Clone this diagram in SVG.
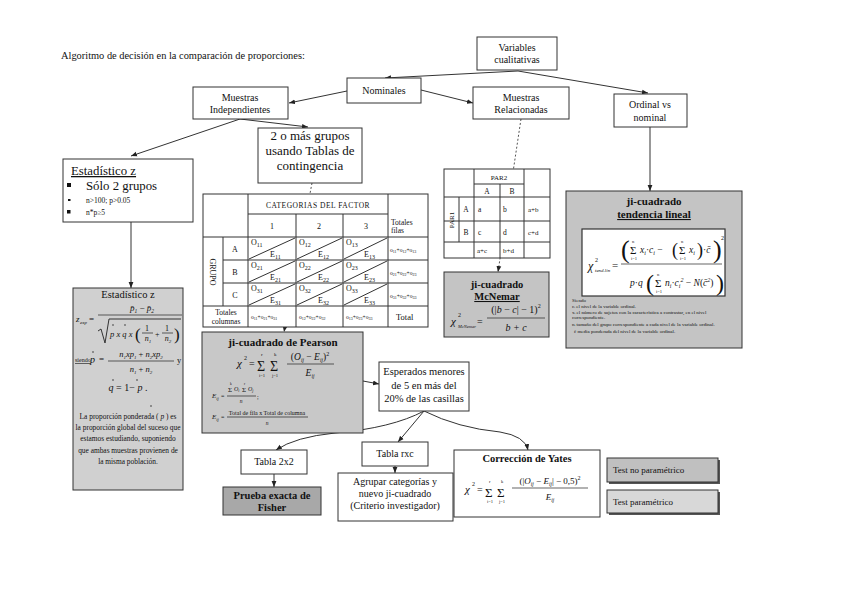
<svg xmlns="http://www.w3.org/2000/svg" width="848" height="599" viewBox="0 0 848 599">
<defs>
<marker id="ah" viewBox="0 0 10 10" refX="10" refY="5" markerWidth="6" markerHeight="6" orient="auto"><path d="M0,1 L10,5 L0,9 z" fill="#222"/></marker>
<style>
text{font-family:"Liberation Serif","Times New Roman",serif;fill:#111}
.b{fill:#fff;stroke:#333;stroke-width:1}
.g{stroke:#333;stroke-width:1}
.c{text-anchor:middle}
.bd{font-weight:bold}
.it{font-style:italic}
.ln{stroke:#333;stroke-width:1;fill:none}
.fr{stroke:#222;stroke-width:0.7}
.cn{stroke:#333;stroke-width:1;fill:none}
.dash{stroke:#555;stroke-width:1;fill:none;stroke-dasharray:2,2}
</style>
</defs>
<rect width="848" height="599" fill="#fff"/>
<text x="61" y="59" font-size="10.4">Algoritmo de decisión en la comparación de  proporciones:</text>

<g id="connectors">
<path class="cn" d="M518,71 L385,78" marker-end="url(#ah)"/>
<path class="cn" d="M518,71 L648,93" marker-end="url(#ah)"/>
<path class="cn" d="M347,91 L289,103" marker-end="url(#ah)"/>
<path class="cn" d="M421,90 L473,103" marker-end="url(#ah)"/>
<path class="cn" d="M240,119 L131,156" marker-end="url(#ah)"/>
<path class="cn" d="M240,119 L308,127" marker-end="url(#ah)"/>
<path class="dash" d="M312,183 L284,332" marker-end="url(#ah)"/>
<path class="dash" d="M521,119 L498,272" marker-end="url(#ah)"/>
<path class="cn" d="M650,127 L650,191" marker-end="url(#ah)"/>
<path class="cn" d="M131,222 L131,288" marker-end="url(#ah)"/>
<path class="cn" d="M363,381 L379,384" marker-end="url(#ah)"/>
<path class="cn" d="M424,411 L398,442" marker-end="url(#ah)"/>
<path class="cn" d="M424,411 Q392,428 335,433 Q295,437 276,450" marker-end="url(#ah)"/>
<path class="cn" d="M424,411 Q458,428 500,432 Q525,436 528,450" marker-end="url(#ah)"/>
<path class="cn" d="M395,466 L395,473" marker-end="url(#ah)"/>
<path class="cn" d="M274,474 L274,487" marker-end="url(#ah)"/>
</g>

<g id="variables">
<rect class="b" x="477" y="37" width="80" height="33"/>
<text class="c" x="517" y="51" font-size="10">Variables</text>
<text class="c" x="517" y="63" font-size="10">cualitativas</text>
</g>
<g id="nominales">
<rect class="b" x="347" y="78" width="74" height="25"/>
<text class="c" x="384" y="94" font-size="10">Nominales</text>
</g>
<g id="muestras-independientes">
<rect class="b" x="193" y="87" width="95" height="32"/>
<text class="c" x="240" y="101" font-size="10">Muestras</text>
<text class="c" x="240" y="113" font-size="10">Independientes</text>
</g>
<g id="muestras-relacionadas">
<rect class="b" x="473" y="87" width="96" height="32"/>
<text class="c" x="521" y="101" font-size="10">Muestras</text>
<text class="c" x="521" y="113" font-size="10">Relacionadas</text>
</g>
<g id="ordinal">
<rect class="b" x="614" y="94" width="73" height="33"/>
<text class="c" x="650" y="108" font-size="10">Ordinal vs</text>
<text class="c" x="650" y="121" font-size="10">nominal</text>
</g>

<g id="estadistico-z">
<rect class="b" x="63" y="159" width="130" height="63"/>
<text x="71" y="175" font-size="12.8" text-decoration="underline">Estadístico z</text>
<rect x="67" y="183" width="4" height="4" fill="#111"/>
<text x="86" y="190" font-size="12.8">Sólo 2 grupos</text>
<rect x="68" y="199" width="2.5" height="2" fill="#111"/>
<text x="86" y="203" font-size="7.5">n&gt;100; p&gt;0.05</text>
<rect x="67" y="210" width="3.5" height="3.5" fill="#111"/>
<text x="86" y="215" font-size="7.5">n*p≥5</text>
</g>

<g id="dos-o-mas">
<rect class="b" x="258" y="128" width="104" height="55"/>
<text class="c" x="310" y="140" font-size="13">2 o más grupos</text>
<text class="c" x="310" y="155" font-size="13">usando Tablas de</text>
<text class="c" x="310" y="170" font-size="13">contingencia</text>
</g>

<g id="tabla-contingencia">
<rect x="203" y="194" width="225" height="133" fill="#fff" stroke="#333"/>
<path class="ln" d="M248,194 V327 M203,237 H428 M248,214 H388 M296,214 V327 M343,214 V327 M388,194 V327 M223,237 V306 M203,306 H428 M223,260 H428 M223,283 H428"/>
<path class="ln" stroke-width="0.8" d="M249,259 L295,238 M297,259 L342,238 M344,259 L387,238 M249,282 L295,261 M297,282 L342,261 M344,282 L387,261 M249,305 L295,284 M297,305 L342,284 M344,305 L387,284"/>
<text class="c" x="318" y="208" font-size="7.5" letter-spacing="0.5">CATEGORIAS DEL FACTOR</text>
<text class="c" x="272" y="229" font-size="8">1</text>
<text class="c" x="319" y="229" font-size="8">2</text>
<text class="c" x="366" y="229" font-size="8">3</text>
<text x="391" y="225" font-size="7.5">Totales</text>
<text x="391" y="233" font-size="7.5">filas</text>
<text class="c" font-size="8" transform="translate(210,272) rotate(90)">GRUPO</text>
<text class="c" x="235" y="252" font-size="8">A</text>
<text class="c" x="235" y="275" font-size="8">B</text>
<text class="c" x="235" y="298" font-size="8">C</text>
<g font-size="8">
<text x="251" y="245">O<tspan font-size="6" dy="1.5">11</tspan></text>
<text x="270" y="257">E<tspan font-size="6" dy="1.5">11</tspan></text>
<text x="299" y="245">O<tspan font-size="6" dy="1.5">12</tspan></text>
<text x="318" y="257">E<tspan font-size="6" dy="1.5">12</tspan></text>
<text x="346" y="245">O<tspan font-size="6" dy="1.5">13</tspan></text>
<text x="364" y="257">E<tspan font-size="6" dy="1.5">13</tspan></text>
<text x="251" y="268">O<tspan font-size="6" dy="1.5">21</tspan></text>
<text x="270" y="280">E<tspan font-size="6" dy="1.5">21</tspan></text>
<text x="299" y="268">O<tspan font-size="6" dy="1.5">22</tspan></text>
<text x="318" y="280">E<tspan font-size="6" dy="1.5">22</tspan></text>
<text x="346" y="268">O<tspan font-size="6" dy="1.5">23</tspan></text>
<text x="364" y="280">E<tspan font-size="6" dy="1.5">23</tspan></text>
<text x="251" y="291">O<tspan font-size="6" dy="1.5">31</tspan></text>
<text x="270" y="303">E<tspan font-size="6" dy="1.5">31</tspan></text>
<text x="299" y="291">O<tspan font-size="6" dy="1.5">32</tspan></text>
<text x="318" y="303">E<tspan font-size="6" dy="1.5">32</tspan></text>
<text x="346" y="291">O<tspan font-size="6" dy="1.5">33</tspan></text>
<text x="364" y="303">E<tspan font-size="6" dy="1.5">33</tspan></text>
</g>
<g font-size="5.5">
<text x="390" y="252">o<tspan font-size="4" dy="1">11</tspan><tspan dy="-1">+o</tspan><tspan font-size="4" dy="1">12</tspan><tspan dy="-1">+o</tspan><tspan font-size="4" dy="1">13</tspan></text>
<text x="390" y="275">o<tspan font-size="4" dy="1">21</tspan><tspan dy="-1">+o</tspan><tspan font-size="4" dy="1">22</tspan><tspan dy="-1">+o</tspan><tspan font-size="4" dy="1">23</tspan></text>
<text x="390" y="298">o<tspan font-size="4" dy="1">31</tspan><tspan dy="-1">+o</tspan><tspan font-size="4" dy="1">32</tspan><tspan dy="-1">+o</tspan><tspan font-size="4" dy="1">33</tspan></text>
<text x="251" y="319">o<tspan font-size="4" dy="1">11</tspan><tspan dy="-1">+o</tspan><tspan font-size="4" dy="1">21</tspan><tspan dy="-1">+o</tspan><tspan font-size="4" dy="1">31</tspan></text>
<text x="299" y="319">o<tspan font-size="4" dy="1">12</tspan><tspan dy="-1">+o</tspan><tspan font-size="4" dy="1">22</tspan><tspan dy="-1">+o</tspan><tspan font-size="4" dy="1">32</tspan></text>
<text x="346" y="319">o<tspan font-size="4" dy="1">13</tspan><tspan dy="-1">+o</tspan><tspan font-size="4" dy="1">23</tspan><tspan dy="-1">+o</tspan><tspan font-size="4" dy="1">33</tspan></text>
</g>
<text class="c" x="226" y="315" font-size="7.5">Totales</text>
<text class="c" x="226" y="324" font-size="7.5">columnas</text>
<text x="396" y="320" font-size="8.5">Total</text>
</g>

<g id="tabla-par">
<rect x="444" y="169" width="106" height="89" fill="#fff" stroke="#333"/>
<path class="ln" d="M474,169 V258 M524,169 V258 M474,184 H524 M444,197 H550 M459,197 V242 M500,184 V258 M444,221 H550 M444,242 H550"/>
<text class="c" x="499" y="180" font-size="7">PAR2</text>
<text class="c" x="487" y="194" font-size="7.5">A</text>
<text class="c" x="512" y="194" font-size="7.5">B</text>
<text class="c" font-size="7" transform="translate(454,220) rotate(-90)">PAR1</text>
<text class="c" x="466" y="212" font-size="7.5">A</text>
<text class="c" x="466" y="235" font-size="7.5">B</text>
<text x="478" y="212" font-size="7.5">a</text>
<text x="503" y="212" font-size="7.5">b</text>
<text x="528" y="212" font-size="7">a+b</text>
<text x="478" y="235" font-size="7.5">c</text>
<text x="503" y="235" font-size="7.5">d</text>
<text x="528" y="235" font-size="7">c+d</text>
<text x="477" y="253" font-size="7">a+c</text>
<text x="503" y="253" font-size="7">b+d</text>
</g>

<g id="mcnemar">
<rect class="g" x="444" y="272" width="105" height="65" fill="#c4c4c4"/>
<text class="c bd" x="497" y="288" font-size="10.5">ji-cuadrado</text>
<text class="c bd" x="497" y="300" font-size="10.5" text-decoration="underline">McNemar</text>
<text class="it" x="451" y="325" font-size="11">χ</text>
<text x="458" y="317" font-size="6">2</text>
<text class="it" x="458" y="328" font-size="4.5">McNemar</text>
<text x="477" y="325" font-size="10">=</text>
<text class="c" x="516" y="313" font-size="10">(|<tspan class="it">b</tspan> − <tspan class="it">c</tspan>| − 1)<tspan font-size="6" dy="-5">2</tspan></text>
<line class="fr" x1="487" y1="318" x2="545" y2="318"/>
<text class="c it" x="516" y="331" font-size="10">b + c</text>
</g>

<g id="tendencia-lineal">
<rect class="g" x="566" y="191" width="176" height="157" fill="#c4c4c4"/>
<text class="c bd" x="654" y="205" font-size="11">ji-cuadrado</text>
<text class="c bd" x="654" y="218" font-size="11" text-decoration="underline">tendencia lineal</text>
<rect x="582" y="229" width="143" height="67" fill="#fff" stroke="#333" stroke-width="1.2"/>
<text class="it" x="588" y="270" font-size="12">χ</text>
<text x="595" y="262" font-size="6">2</text>
<text class="it" x="595" y="272" font-size="5">tend.lin</text>
<text x="612" y="269" font-size="11">=</text>
<line class="fr" x1="621" y1="264" x2="722" y2="264"/>
<text x="621" y="258" font-size="26">(</text>
<text x="630" y="254" font-size="11">Σ</text>
<text x="632" y="243" font-size="4.5">n</text>
<text x="631" y="260" font-size="4.5">i=1</text>
<text class="it" x="640" y="253" font-size="9.5">x<tspan font-size="6" dy="2">i</tspan><tspan dy="-2" font-style="normal">·</tspan>c<tspan font-size="6" dy="2">i</tspan><tspan dy="-2" font-style="normal"> −</tspan></text>
<text x="672" y="256" font-size="18">(</text>
<text x="679" y="254" font-size="11">Σ</text>
<text x="681" y="243" font-size="4.5">n</text>
<text x="680" y="260" font-size="4.5">i=1</text>
<text class="it" x="689" y="253" font-size="9.5">x<tspan font-size="6" dy="2">i</tspan></text>
<text x="697" y="256" font-size="18">)</text>
<text class="it" x="703" y="253" font-size="9.5"><tspan font-style="normal">·</tspan>c̄</text>
<text x="713" y="258" font-size="26">)</text>
<text x="721" y="240" font-size="6">2</text>
<text class="it" x="630" y="286" font-size="9.5">p<tspan font-style="normal">·</tspan>q</text>
<text x="646" y="291" font-size="24">(</text>
<text x="655" y="287" font-size="11">Σ</text>
<text x="657" y="276" font-size="4.5">n</text>
<text x="656" y="293" font-size="4.5">i=1</text>
<text class="it" x="665" y="286" font-size="9.5">n<tspan font-size="6" dy="2">i</tspan><tspan dy="-2" font-style="normal">·</tspan>c<tspan font-size="6" dy="2">i</tspan><tspan font-size="6" dy="-6">2</tspan><tspan dy="4" font-style="normal"> − </tspan>N<tspan font-style="normal">(</tspan>c̄<tspan font-size="6" dy="-4">2</tspan><tspan dy="4" font-style="normal">)</tspan></text>
<text x="716" y="291" font-size="24">)</text>
<g font-size="5">
<text x="572" y="302">Siendo</text>
<text x="572" y="308">cᵢ el nivel de la variable ordinal.</text>
<text x="572" y="314">xᵢ el número de sujetos con la característica a contrastar, en el nivel</text>
<text x="572" y="319">correspondiente.</text>
<text x="572" y="326">nᵢ tamaño del grupo correspondiente a cada nivel de la variable ordinal.</text>
<text x="574" y="333">c̄  media ponderada del nivel de la variable ordinal.</text>
</g>
</g>

<g id="estadistico-z-formula">
<rect class="g" x="73" y="288" width="110" height="202" fill="#d0d0d0"/>
<text class="c" x="128" y="298" font-size="10.5">Estadístico z</text>
<text class="it" x="76" y="322" font-size="9">z</text>
<text class="it" x="80" y="324" font-size="5">exp</text>
<text x="89" y="322" font-size="9">=</text>
<text class="c it" x="142" y="311" font-size="9">p̄<tspan font-size="5.5" dy="2">1</tspan><tspan dy="-2" font-style="normal"> − </tspan>p̄<tspan font-size="5.5" dy="2">2</tspan></text>
<line class="fr" x1="98" y1="315" x2="182" y2="315"/>
<path class="ln" stroke-width="0.8" d="M98,331 L101,329 L105,343 L109,319 L181,319"/>
<text class="it" x="110" y="337" font-size="8.5">p x q x</text>
<circle cx="113" cy="325" r="0.7" fill="#111"/>
<circle cx="125" cy="325" r="0.7" fill="#111"/>
<text x="135" y="340" font-size="17">(</text>
<text class="c" x="147" y="331" font-size="8">1</text>
<line class="fr" x1="142" y1="333" x2="153" y2="333"/>
<text class="c it" x="148" y="341" font-size="8">n<tspan font-size="5" dy="1.5">1</tspan></text>
<text x="155" y="337" font-size="8">+</text>
<text class="c" x="167" y="331" font-size="8">1</text>
<line class="fr" x1="162" y1="333" x2="173" y2="333"/>
<text class="c it" x="168" y="341" font-size="8">n<tspan font-size="5" dy="1.5">2</tspan></text>
<text x="174" y="340" font-size="17">)</text>
<text x="75" y="362" font-size="6" text-decoration="underline">siendo</text>
<text class="it" x="90" y="363" font-size="10">p</text>
<circle cx="93" cy="352" r="0.7" fill="#111"/>
<text x="99" y="362" font-size="9">=</text>
<text class="c it" x="141" y="357" font-size="8.5">n<tspan font-size="5" dy="1.5">1</tspan><tspan dy="-1.5">xp</tspan><tspan font-size="5" dy="1.5">1</tspan><tspan dy="-1.5" font-style="normal"> + </tspan>n<tspan font-size="5" dy="1.5">2</tspan><tspan dy="-1.5">xp</tspan><tspan font-size="5" dy="1.5">2</tspan></text>
<line class="fr" x1="108" y1="361" x2="174" y2="361"/>
<text class="c it" x="141" y="372" font-size="8.5">n<tspan font-size="5" dy="1.5">1</tspan><tspan dy="-1.5" font-style="normal"> + </tspan>n<tspan font-size="5" dy="1.5">2</tspan></text>
<text x="177" y="363" font-size="8.5">y</text>
<text class="c" x="128" y="391" font-size="10"><tspan font-style="italic">q</tspan> = 1− <tspan font-style="italic">p</tspan>  .</text>
<circle cx="113" cy="380" r="0.7" fill="#111"/>
<circle cx="137" cy="380" r="0.7" fill="#111"/>
<circle cx="151" cy="406" r="0.7" fill="#111"/>
<g font-size="7.4">
<text class="c" x="128" y="419">La proporción ponderada  ( <tspan font-style="italic">p</tspan> ) es</text>
<text class="c" x="128" y="430">la proporción global del suceso que</text>
<text class="c" x="128" y="441">estamos estudiando, suponiendo</text>
<text class="c" x="128" y="453">que ambas muestras provienen de</text>
<text class="c" x="128" y="464">la misma población.</text>
</g>
</g>

<g id="pearson">
<rect class="g" x="202" y="332" width="161" height="101" fill="#c8c8c8"/>
<text class="c bd" x="283" y="346" font-size="11">ji-cuadrado  de Pearson</text>
<text class="it" x="237" y="367" font-size="11">χ</text>
<text x="244" y="360" font-size="6">2</text>
<text x="249" y="367" font-size="10">=</text>
<text x="257" y="371" font-size="14">Σ</text>
<text x="261" y="356" font-size="5">r</text>
<text x="259" y="377" font-size="4.5">i=1</text>
<text x="270" y="371" font-size="14">Σ</text>
<text x="274" y="356" font-size="5">k</text>
<text x="272" y="377" font-size="4.5">j=1</text>
<text class="c it" x="310" y="360" font-size="9.5"><tspan font-style="normal">(</tspan>O<tspan font-size="5.5" dy="2">ij</tspan><tspan dy="-2" font-style="normal"> − </tspan>E<tspan font-size="5.5" dy="2">ij</tspan><tspan dy="-2" font-style="normal">)</tspan><tspan font-size="6" font-style="normal" dy="-4">2</tspan></text>
<line class="fr" x1="287" y1="364" x2="334" y2="364"/>
<text class="c it" x="310" y="376" font-size="9.5">E<tspan font-size="5.5" dy="2">ij</tspan></text>
<text class="it" x="212" y="398" font-size="7">E<tspan font-size="4.5" dy="1.5">ij</tspan></text>
<text x="221" y="398" font-size="6">=</text>
<text x="228" y="392" font-size="7">Σ</text>
<text x="234" y="391" font-size="6" font-style="italic">O<tspan font-size="4" dy="1">i</tspan></text>
<text x="242" y="392" font-size="7">Σ</text>
<text x="248" y="391" font-size="6" font-style="italic">O<tspan font-size="4" dy="1">j</tspan></text>
<text x="230" y="385" font-size="3.5">k</text>
<text x="244" y="385" font-size="3.5">r</text>
<line class="fr" x1="227" y1="396" x2="256" y2="396"/>
<text class="c it" x="241" y="403" font-size="5.5">n</text>
<text x="257" y="399" font-size="6">;</text>
<text class="it" x="212" y="419" font-size="7">E<tspan font-size="4.5" dy="1.5">ij</tspan></text>
<text x="221" y="419" font-size="6">=</text>
<text class="c" x="267" y="415" font-size="6">Total de fila x Total de columna</text>
<line class="fr" x1="227" y1="417" x2="308" y2="417"/>
<text class="c it" x="267" y="425" font-size="5.5">n</text>
</g>

<g id="esperados">
<rect class="b" x="379" y="362" width="90" height="49"/>
<text class="c" x="424" y="375" font-size="10.5">Esperados menores</text>
<text class="c" x="424" y="389" font-size="10.5">de 5 en más del</text>
<text class="c" x="424" y="402" font-size="10.5">20% de las casillas</text>
</g>

<g id="tabla-rxc">
<rect class="b" x="362" y="442" width="66" height="24"/>
<text class="c" x="395" y="457" font-size="10">Tabla rxc</text>
</g>
<g id="agrupar">
<rect class="b" x="338" y="473" width="115" height="48"/>
<text class="c" x="395" y="485" font-size="10">Agrupar categorías y</text>
<text class="c" x="395" y="497" font-size="10">nuevo ji-cuadrado</text>
<text class="c" x="395" y="509" font-size="10">(Criterio investigador)</text>
</g>
<g id="tabla-2x2">
<rect class="b" x="241" y="450" width="66" height="24"/>
<text class="c" x="274" y="465" font-size="10">Tabla 2x2</text>
</g>
<g id="fisher">
<rect class="g" x="223" y="487" width="98" height="28" fill="#a8a8a8"/>
<text class="c bd" x="272" y="499" font-size="10.5">Prueba exacta de</text>
<text class="c bd" x="272" y="511" font-size="10.5">Fisher</text>
</g>

<g id="yates">
<rect class="b" x="454" y="450" width="146" height="67"/>
<text class="c bd" x="527" y="462" font-size="10.5">Corrección de Yates</text>
<text class="it" x="465" y="493" font-size="11">χ</text>
<text x="472" y="486" font-size="6">2</text>
<text x="477" y="493" font-size="10">=</text>
<text x="485" y="497" font-size="13">Σ</text>
<text x="489" y="483" font-size="4.5">r</text>
<text x="487" y="503" font-size="4.5">i=1</text>
<text x="497" y="497" font-size="13">Σ</text>
<text x="501" y="483" font-size="4.5">k</text>
<text x="499" y="503" font-size="4.5">j=1</text>
<text class="c it" x="550" y="484" font-size="9"><tspan font-style="normal">(|</tspan>O<tspan font-size="5.5" dy="2">ij</tspan><tspan dy="-2" font-style="normal"> − </tspan>E<tspan font-size="5.5" dy="2">ij</tspan><tspan dy="-2" font-style="normal">| − 0,5)</tspan><tspan font-size="6" font-style="normal" dy="-4">2</tspan></text>
<line class="fr" x1="512" y1="488" x2="588" y2="488"/>
<text class="c it" x="550" y="500" font-size="9">E<tspan font-size="5.5" dy="2">ij</tspan></text>
</g>

<g id="test-no-parametrico">
<rect x="609" y="460" width="111" height="24" fill="#555"/>
<rect class="g" x="607" y="458" width="111" height="24" fill="#c0c0c0"/>
<text x="613" y="473" font-size="9">Test no paramétrico</text>
</g>
<g id="test-parametrico">
<rect x="609" y="492" width="111" height="23" fill="#555"/>
<rect class="g" x="607" y="490" width="111" height="23" fill="#d8d8d8"/>
<text x="613" y="505" font-size="9">Test  paramétrico</text>
</g>
</svg>
